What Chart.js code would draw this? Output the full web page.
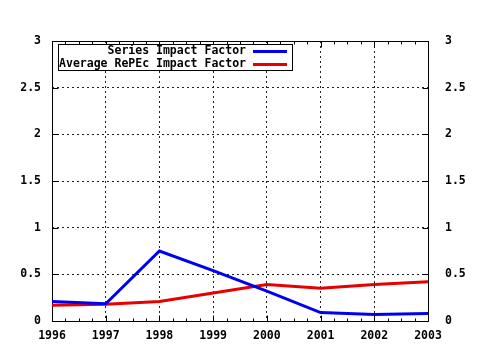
<!DOCTYPE html>
<html lang="en">
<head>
    <meta charset="UTF-8">
    <title>Impact Factor</title>
    <script src="https://cdn.jsdelivr.net/npm/chart.js@4"></script>
    <style>
        body {
            margin: 0;
            background: #fff;
        }
        canvas {
            display: block;
        }
    </style>
</head>
<body>
    <canvas id="impactChart" width="480" height="350"></canvas>

    <script>
        const years = [1996, 1997, 1998, 1999, 2000, 2001, 2002, 2003];
        const seriesImpact = [0.21, 0.185, 0.75, 0.54, 0.32, 0.09, 0.07, 0.08];
        const repecImpact = [0.17, 0.18, 0.21, 0.30, 0.39, 0.35, 0.39, 0.42];
        const seriesNames = ['Series Impact Factor', 'Average RePEc Impact Factor'];

        const monoFont = '"DejaVu Sans Mono", "Liberation Mono", monospace';

        function points(values) {
            return years.map((yr, i) => ({ x: yr, y: values[i] }));
        }

        // frame + inward ticks, gnuplot style
        const framePlugin = {
            id: 'frame',
            beforeDatasetsDraw(chart) {
                const ctx = chart.ctx;
                const a = chart.chartArea;
                const xs = chart.scales.x;
                const ys = chart.scales.y;
                const L = Math.round(a.left) + 0.5, R = Math.round(a.right) + 0.5;
                const T = Math.round(a.top) + 0.5, B = Math.round(a.bottom) + 0.5;
                ctx.save();
                ctx.strokeStyle = '#000';
                ctx.lineWidth = 1;
                ctx.beginPath();
                ctx.rect(L, T, R - L, B - T);
                // x ticks, major every year, minor every quarter
                for (let v = years[0]; v <= years[years.length - 1] + 0.001; v += 0.25) {
                    const px = Math.round(xs.getPixelForValue(v)) + 0.5;
                    const len = Math.abs(v - Math.round(v)) < 0.001 ? 6 : 3;
                    ctx.moveTo(px, B); ctx.lineTo(px, B - len);
                    ctx.moveTo(px, T); ctx.lineTo(px, T + len);
                }
                // y ticks on both sides
                for (let v = 0; v <= 3.001; v += 0.5) {
                    const py = Math.round(ys.getPixelForValue(v)) + 0.5;
                    ctx.moveTo(L, py); ctx.lineTo(L + 6, py);
                    ctx.moveTo(R, py); ctx.lineTo(R - 6, py);
                }
                ctx.stroke();
                ctx.restore();
            },
            afterDraw(chart) {
                const ctx = chart.ctx;
                const sets = chart.data.datasets;
                ctx.save();
                ctx.fillStyle = '#fff';
                ctx.fillRect(58, 44, 234, 26);
                ctx.strokeStyle = '#000';
                ctx.lineWidth = 1;
                ctx.strokeRect(58.5, 44.5, 234, 26);
                ctx.font = 'bold 11.5px ' + monoFont;
                ctx.textAlign = 'right';
                ctx.textBaseline = 'middle';
                sets.forEach((ds, i) => {
                    const y = 51 + i * 12.7;
                    ctx.fillStyle = '#000';
                    ctx.fillText(ds.label, 246, y + 0.5);
                    ctx.strokeStyle = ds.borderColor;
                    ctx.lineWidth = 3;
                    ctx.beginPath();
                    ctx.moveTo(253, Math.round(y) + 0.5);
                    ctx.lineTo(287, Math.round(y) + 0.5);
                    ctx.stroke();
                });
                ctx.restore();
            }
        };

        const tickFont = { family: monoFont, size: 11.5, weight: 'bold' };

        new Chart(document.getElementById('impactChart'), {
            type: 'line',
            data: {
                datasets: [
                    {
                        label: seriesNames[0],
                        data: points(seriesImpact),
                        borderColor: '#0000f0',
                        borderWidth: 3,
                        pointRadius: 0,
                        tension: 0
                    },
                    {
                        label: seriesNames[1],
                        data: points(repecImpact),
                        borderColor: '#e80000',
                        borderWidth: 3,
                        pointRadius: 0,
                        tension: 0
                    }
                ]
            },
            options: {
                responsive: false,
                animation: false,
                layout: { padding: { top: 41, left: 0, right: 0, bottom: 0 } },
                plugins: {
                    legend: { display: false },
                    tooltip: { enabled: false }
                },
                scales: {
                    x: {
                        type: 'linear',
                        min: 1996,
                        max: 2003,
                        afterFit: s => { s.height = 29; },
                        ticks: {
                            stepSize: 1,
                            color: '#000',
                            font: tickFont,
                            padding: 8,
                            maxRotation: 0,
                            callback: v => String(v)
                        },
                        grid: { color: '#222', lineWidth: 1, drawTicks: false },
                        border: { display: false, dash: [2, 3] }
                    },
                    y: {
                        position: 'left',
                        min: 0,
                        max: 3,
                        afterFit: s => { s.width = 52; },
                        ticks: { stepSize: 0.5, color: '#000', font: tickFont, padding: 11, callback: v => String(v) },
                        grid: { color: '#222', lineWidth: 1, drawTicks: false },
                        border: { display: false, dash: [2, 3] }
                    },
                    y2: {
                        position: 'right',
                        min: 0,
                        max: 3,
                        afterFit: s => { s.width = 52; },
                        ticks: { stepSize: 0.5, color: '#000', font: tickFont, padding: 17, callback: v => String(v) },
                        grid: { display: false, drawTicks: false },
                        border: { display: false }
                    }
                }
            },
            plugins: [framePlugin]
        });
    </script>
</body>
</html>
